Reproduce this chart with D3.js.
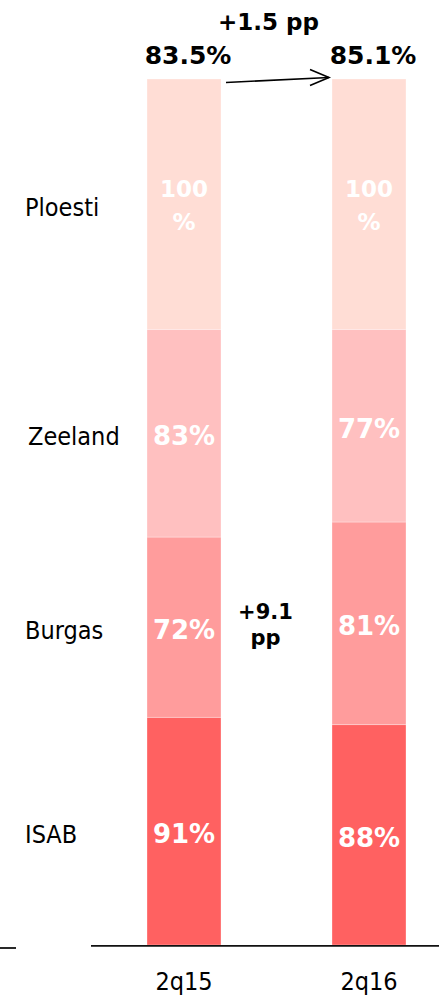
<!DOCTYPE html>
<html>
<head>
<meta charset="utf-8">
<script src="https://cdn.jsdelivr.net/npm/d3@7"></script>
<style>
  body { margin: 0; background: #fff; }
  svg { display: block; }
  .cat { font-family: "DejaVu Sans Condensed", "DejaVu Sans", sans-serif; font-stretch: condensed; font-size: 25px; fill: #000; }
  .bold { font-family: "DejaVu Sans", sans-serif; font-weight: bold; fill: #000; }
  .inner { font-family: "DejaVu Sans", sans-serif; font-weight: bold; fill: #fff; }
</style>
</head>
<body>
<div id="chart"></div>
<script>
// data
const periods = ['2q15', '2q16'];
const plants = ['ISAB', 'Burgas', 'Zeeland', 'Ploesti']; // bottom -> top
const values2q15 = [91, 72, 83, 100];
const values2q16 = [88, 81, 77, 100];
const totalLabels = ['83.5%', '85.1%'];
const topChange = '+1.5 pp';
const midChange = ['+9.1', 'pp'];
const colors = ['#ff6161', '#ff9c9c', '#ffc0c0', '#ffddd5'];

const width = 439, height = 998;

const svg = d3.select('#chart').append('svg')
  .attr('width', width)
  .attr('height', height);

// table for the stack
const rows = periods.map((p, i) => {
  const r = { period: p };
  const vals = i === 0 ? values2q15 : values2q16;
  plants.forEach((k, j) => { r[k] = vals[j]; });
  return r;
});

const stack = d3.stack().keys(plants);
const series = stack(rows);
const maxTotal = d3.max(series[series.length - 1], d => d[1]);

const x = d3.scaleBand()
  .domain(periods)
  .range([91.5, 461.5])
  .paddingInner(0.6)
  .paddingOuter(0.3);

const y = d3.scaleLinear()
  .domain([0, maxTotal])
  .range([945, 79]);

const color = d3.scaleOrdinal().domain(plants).range(colors);

// bars
const layer = svg.selectAll('.series')
  .data(series)
  .enter()
  .append('g')
  .attr('class', 'series')
  .attr('fill', d => color(d.key));

layer.selectAll('rect')
  .data(d => d)
  .enter()
  .append('rect')
  .attr('x', d => x(d.data.period))
  .attr('width', x.bandwidth())
  .attr('y', d => y(d[1]))
  .attr('height', d => y(d[0]) - y(d[1]))
  .attr('stroke', '#fff')
  .attr('stroke-opacity', 0.5)
  .attr('stroke-width', 0.6);

// value labels inside the bars
layer.each(function (s) {
  const g = d3.select(this);
  s.forEach(d => {
    const cx = x(d.data.period) + x.bandwidth() / 2;
    const cy = (y(d[0]) + y(d[1])) / 2;
    const v = d[1] - d[0];
    if (v >= 100) {
      // doesn't fit on one line -> wrap
      const t = g.append('text')
        .attr('class', 'inner')
        .attr('text-anchor', 'middle')
        .style('font-size', '23px');
      t.append('tspan').attr('x', cx).attr('y', cy - 7).text(v);
      t.append('tspan').attr('x', cx).attr('y', cy + 26).text('%');
    } else {
      g.append('text')
        .attr('class', 'inner')
        .attr('text-anchor', 'middle')
        .style('font-size', '26px')
        .attr('x', cx)
        .attr('y', cy + 12)
        .text(v + '%');
    }
  });
});

// category labels on the left, against the first bar
svg.selectAll('.cat-label')
  .data(series)
  .enter()
  .append('text')
  .attr('class', 'cat')
  .attr('x', (d, i) => (d.key === 'Zeeland' ? 28 : 25))
  .attr('y', d => (y(d[0][0]) + y(d[0][1])) / 2 + 12)
  .text(d => d.key);

// x axis
const xAxis = d3.axisBottom(x).tickSize(0).tickPadding(0);
const xg = svg.append('g')
  .attr('transform', 'translate(0,990)')
  .call(xAxis);
xg.select('.domain').remove();
xg.selectAll('text')
  .attr('class', 'cat')
  .attr('dy', 0)
  .attr('fill', '#000');

svg.append('line')
  .attr('x1', 91).attr('x2', width)
  .attr('y1', y(0) + 0.8).attr('y2', y(0) + 0.8)
  .attr('stroke', '#111').attr('stroke-width', 1.8);

svg.append('line')
  .attr('x1', 0).attr('x2', 16)
  .attr('y1', y(0) + 3).attr('y2', y(0) + 3)
  .attr('stroke', '#111').attr('stroke-width', 1.8);

// totals on top
svg.selectAll('.total')
  .data(periods)
  .enter()
  .append('text')
  .attr('class', 'bold')
  .style('font-size', '25px')
  .attr('text-anchor', 'middle')
  .attr('x', d => x(d) + x.bandwidth() / 2 + 4)
  .attr('y', 64)
  .text((d, i) => totalLabels[i]);

const midX = (x(periods[0]) + x(periods[1]) + x.bandwidth()) / 2;

// change between totals
svg.append('text')
  .attr('class', 'bold')
  .style('font-size', '23px')
  .attr('text-anchor', 'middle')
  .attr('x', midX - 8)
  .attr('y', 30)
  .text(topChange);

// arrow
const ax1 = x(periods[0]) + x.bandwidth() + 5;
const ax2 = x(periods[1]) - 3;
const ay1 = y(maxTotal) + 3.5;
const ay2 = y(maxTotal) - 1.5;
svg.append('line')
  .attr('x1', ax1).attr('y1', ay1)
  .attr('x2', ax2).attr('y2', ay2)
  .attr('stroke', '#000').attr('stroke-width', 1.6);
svg.append('path')
  .attr('d', `M${ax2 - 19},${ay2 - 8} L${ax2},${ay2} L${ax2 - 19},${ay2 + 8}`)
  .attr('fill', 'none')
  .attr('stroke', '#000')
  .attr('stroke-width', 1.6);

// mid change
const mid = svg.append('text')
  .attr('class', 'bold')
  .style('font-size', '21px')
  .attr('text-anchor', 'middle');
mid.append('tspan').attr('x', midX - 11).attr('y', 619).text(midChange[0]);
mid.append('tspan').attr('x', midX - 11).attr('y', 645).text(midChange[1]);
</script>
</body>
</html>
